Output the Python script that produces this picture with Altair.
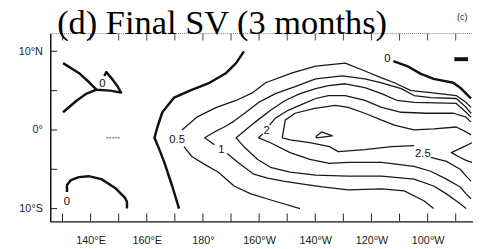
import altair as alt
import pandas as pd

TITLE = "(d) Final SV (3 months)"
PANEL_TAG = "(c)"

# Longitude in degrees east (0-360), latitude in degrees north
LON_DOMAIN = [125.65, 276.15]
LAT_DOMAIN = [-11.625, 12.25]

X_TICKS = [130, 140, 150, 160, 170, 180, 190, 200, 210, 220, 230, 240, 250, 260, 270]
X_LABELED = [140, 160, 180, 200, 220, 240, 260]
Y_TICKS = [10, 5, 0, -5, -10]
Y_LABELED = [10, 0, -10]

# ---- bold zero contours ----
ZERO_NW_A = [(130.2, 8.5), (135.8, 7.25), (139.3, 6.125), (142.1, 5.125), (147.0, 5.0),
             (150.85, 4.75), (149.45, 5.625), (147.35, 6.625), (145.6, 7.375), (144.9, 6.875)]
ZERO_NW_B = [(142.1, 5.125), (138.6, 4.625), (135.1, 3.75), (130.2, 2.25)]
ZERO_SW = [(131.6, -7.875), (131.6, -7.0), (133.0, -6.375), (135.8, -6.0), (139.3, -5.875),
           (143.85, -6.25), (148.75, -7.375), (152.25, -8.625), (152.95, -9.125), (152.95, -10.0)]
ZERO_MID = [(171.5, -10.0), (169.05, -7.125), (166.25, -4.125), (164.5, -2.5), (162.75, -1.0),
            (163.8, 0.375), (165.55, 2.25), (169.75, 4.125), (175.35, 5.0), (182.35, 6.0),
            (188.3, 7.25), (191.8, 8.5), (194.6, 10.0)]
ZERO_NE = [(247.8, 8.75), (252.7, 8.125), (257.6, 7.125), (262.15, 6.5), (269.15, 6.0),
           (271.6, 5.375), (273.7, 4.625), (275.45, 4.0)]
ZERO_NE_STUB = [(269.5, 9.0), (274.4, 9.0)]

# ---- thin contours ----
C05_UP = [(172.55, 0.0), (177.8, 1.625), (184.8, 2.875), (191.8, 3.75), (197.75, 4.75),
          (202.3, 6.0), (211.75, 7.25), (220.15, 8.125), (230.65, 8.5), (237.65, 7.5),
          (243.6, 6.625), (248.15, 6.0), (254.1, 5.0), (261.1, 4.75), (270.2, 4.375),
          (273.7, 3.5), (275.45, 2.875)]
C05_LO = [(173.25, -2.125), (176.05, -3.375), (180.6, -4.375), (185.5, -5.375), (191.1, -7.125),
          (197.05, -8.125), (205.1, -9.0), (214.55, -10.0)]
C1_UP = [(275.45, 2.125), (273.7, 2.875), (270.2, 4.0), (261.1, 4.125), (255.15, 4.375),
         (250.6, 5.25), (243.6, 6.0), (237.65, 6.5), (229.6, 6.875), (220.15, 6.5),
         (212.8, 5.5), (205.8, 4.625), (199.85, 3.5), (195.3, 2.25), (191.1, 1.125),
         (187.6, 0.375), (184.1, -0.25), (180.6, -1.0), (184.1, -1.875)]
C1_LO = [(188.65, -3.0), (192.5, -4.125), (198.1, -5.625), (203.0, -6.125), (208.6, -6.5),
         (215.6, -6.875), (222.6, -7.25), (231.7, -7.625), (243.6, -7.5), (251.65, -7.75),
         (258.65, -9.0), (262.15, -10.0)]
C15 = [(275.45, 1.625), (273.7, 2.25), (270.2, 3.375), (255.15, 3.5), (249.2, 3.75),
       (243.6, 4.625), (237.65, 5.375), (230.65, 5.875), (224.7, 5.625), (220.15, 5.25),
       (214.55, 4.625), (209.3, 3.75), (204.05, 2.5), (199.5, 1.25), (196.0, 0.25),
       (193.9, -0.375), (191.8, -1.0), (194.6, -2.125), (199.5, -3.75), (204.05, -4.75),
       (211.05, -5.375), (220.15, -5.75), (231.7, -5.875), (243.6, -5.875), (255.15, -6.25),
       (262.15, -7.125), (266.7, -8.125), (271.6, -9.375), (273.7, -10.0)]
C2_UP = [(275.45, 1.0), (273.7, 1.625), (269.15, 2.125), (259.7, 2.125), (250.6, 2.25),
         (243.6, 2.875), (237.65, 3.75), (230.65, 4.375), (224.7, 4.375), (220.15, 4.0),
         (215.25, 3.25), (210.35, 2.5), (205.8, 1.5), (203.7, 0.625)]
C2_LO = [(201.25, -0.5), (199.85, -1.0), (204.05, -1.625), (211.05, -2.875), (218.05, -3.75),
         (225.05, -4.25), (231.7, -4.125), (243.6, -4.125), (255.15, -4.625), (261.1, -5.25),
         (266.7, -6.25), (271.6, -7.25), (273.7, -8.125), (275.45, -8.75)]
C25_A = [(275.45, -0.625), (273.7, -0.25), (270.2, 0.375), (262.15, 0.125), (255.15, 0.0),
         (248.15, 0.625), (243.6, 1.25), (237.65, 2.125), (231.7, 2.875), (227.15, 3.125),
         (219.8, 2.75), (212.8, 2.125), (209.3, 1.25), (208.25, -1.0), (211.05, -1.25),
         (218.05, -1.625), (225.05, -2.125), (228.2, -2.75), (237.65, -2.5), (247.1, -2.125),
         (255.15, -2.0)]
C25_B = [(261.1, -3.5), (266.7, -4.0), (271.6, -5.0), (273.7, -5.875), (275.45, -6.5)]
C3_TRI = [(220.15, -0.875), (222.25, -0.25), (226.1, -0.75), (220.5, -1.0), (220.15, -0.875)]
C_EAST = [(275.8, -1.625), (273.7, -2.0), (268.45, -2.875), (271.6, -3.5), (273.7, -3.875),
          (275.8, -4.125)]
SPECK = [(145.6, -1.0), (150.5, -1.0)]

LABEL_TEXT = ["0", "0", "0", "0.5", "1", "2", "2.5"]
LABEL_LON = [144.2, 131.6, 245.7, 170.8, 186.55, 202.65, 258.3]
LABEL_LAT = [5.875, -9.125, 9.0, -1.25, -2.5, -0.125, -3.125]


def frame(segments):
    rows = []
    for name, pts in segments.items():
        for i, (lo, la) in enumerate(pts):
            rows.append({"seg": name, "i": i, "lon": lo, "lat": la})
    return pd.DataFrame(rows)


bold_df = frame({"nwa": ZERO_NW_A, "nwb": ZERO_NW_B, "sw": ZERO_SW, "mid": ZERO_MID, "ne": ZERO_NE})
stub_df = frame({"stub": ZERO_NE_STUB})
thin_df = frame({"c05u": C05_UP, "c05l": C05_LO, "c1u": C1_UP, "c1l": C1_LO, "c15": C15,
                 "c2u": C2_UP, "c2l": C2_LO, "c25a": C25_A, "c25b": C25_B, "c3": C3_TRI,
                 "ce": C_EAST})
speck_df = frame({"sp": SPECK})
label_df = pd.DataFrame({"t": LABEL_TEXT, "lon": LABEL_LON, "lat": LABEL_LAT})

W, H = 430, 191
xs = alt.Scale(domain=LON_DOMAIN, nice=False, zero=False)
ys = alt.Scale(domain=LAT_DOMAIN, nice=False, zero=False)

x_label_expr = ("datum.value < 180 ? datum.value + '°E' : (datum.value == 180 ? '180°' : "
                "(360 - datum.value) + '°W')")
y_label_expr = ("datum.value > 0 ? datum.value + '°N' : (datum.value < 0 ? (-datum.value) + '°S' : '0°')")

x_axis = alt.Axis(values=X_LABELED, labelExpr=x_label_expr, ticks=False, tickSize=0, grid=False,
                  domainColor="#111", domainWidth=1.5, labelFont="Liberation Sans",
                  labelFontSize=11, labelColor="#222", labelPadding=13, title=None)
y_axis = alt.Axis(values=Y_LABELED, labelExpr=y_label_expr, ticks=False, tickSize=0, grid=False,
                  domainColor="#111", domainWidth=1.5, labelFont="Liberation Sans",
                  labelFontSize=11, labelColor="#222", labelPadding=8, title=None)


def X():
    return alt.X("lon:Q", scale=xs, axis=x_axis)


def Y():
    return alt.Y("lat:Q", scale=ys, axis=y_axis)


thin = alt.Chart(thin_df).mark_line(color="#1a1a1a", strokeWidth=1.3, strokeJoin="round").encode(
    x=X(), y=Y(), detail="seg:N", order="i:Q")
bold = alt.Chart(bold_df).mark_line(color="#111", strokeWidth=2.5, strokeJoin="round").encode(
    x=X(), y=Y(), detail="seg:N", order="i:Q")
stub = alt.Chart(stub_df).mark_line(color="#111", strokeWidth=4).encode(
    x=X(), y=Y(), detail="seg:N", order="i:Q")
speck = alt.Chart(speck_df).mark_line(color="#555", strokeWidth=1, strokeDash=[2, 1]).encode(
    x=X(), y=Y(), detail="seg:N", order="i:Q")
labels = alt.Chart(label_df).mark_text(font="Liberation Sans", fontSize=11.5, color="#111").encode(
    x=X(), y=Y(), text="t:N")

xt_df = pd.DataFrame({"lon": X_TICKS})
yt_df = pd.DataFrame({"lat": Y_TICKS})
bot_ticks = alt.Chart(xt_df).mark_rule(color="#222", strokeWidth=1).encode(
    x=X(), y=alt.value(H), y2=alt.value(H - 8))
top_ticks = alt.Chart(xt_df).mark_rule(color="#444", strokeWidth=1).encode(
    x=X(), y=alt.value(0), y2=alt.value(7))
left_ticks = alt.Chart(yt_df).mark_rule(color="#222", strokeWidth=1).encode(
    y=Y(), x=alt.value(0), x2=alt.value(7))

one = pd.DataFrame({"t": [TITLE], "c": [PANEL_TAG]})
top_line = alt.Chart(one).mark_rule(color="#777", strokeWidth=1, strokeDash=[1, 1]).encode(
    x=alt.value(0), x2=alt.value(W), y=alt.value(0))
title = alt.Chart(one).mark_text(font="Liberation Serif", fontSize=35, align="left",
                                 baseline="alphabetic", color="#000").encode(
    text="t:N", x=alt.value(7), y=alt.value(0.8))
tag = alt.Chart(one).mark_text(font="Liberation Sans", fontSize=9, align="center",
                               baseline="middle", color="#222").encode(
    text="c:N", x=alt.value(419), y=alt.value(-17))

chart = alt.layer(thin, bold, stub, speck, labels, bot_ticks, top_ticks, left_ticks,
                  top_line, title, tag).properties(
    width=W, height=H,
    autosize=alt.AutoSizeParams(type="none"),
    padding={"left": 43, "top": 24, "right": 0, "bottom": 24},
    background="white",
).configure_view(stroke=None)

chart.save("out.html", embed_options={"renderer": "svg", "actions": False})
